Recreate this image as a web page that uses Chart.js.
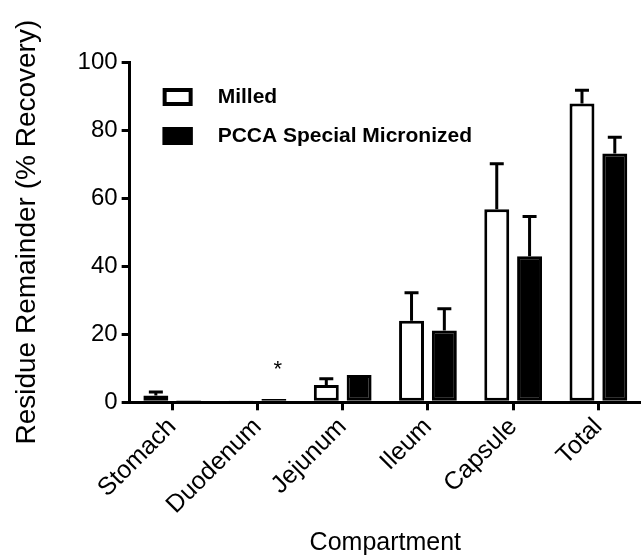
<!DOCTYPE html>
<html>
<head>
<meta charset="utf-8">
<script src="https://cdn.jsdelivr.net/npm/chart.js@4.4.0/dist/chart.umd.min.js"></script>
<style>
  html, body { margin: 0; padding: 0; background: #fff; }
  #wrap { width: 641px; height: 556px; }
</style>
</head>
<body>
<div id="wrap"><canvas id="residueChart"></canvas></div>
<script>
const compartments = ["Stomach", "Duodenum", "Jejunum", "Ileum", "Capsule", "Total"];
const milled = [2.0, 0.4, 5.1, 24.0, 56.7, 87.8];
const milledErr = [1.0, 0, 1.8, 8.2, 13.4, 3.9];
const micronized = [0.6, 1.0, 8.0, 21.1, 42.9, 73.1];
const micronizedErr = [0, 0, 0, 6.4, 11.7, 4.8];
const micronizedMarks = ["", "*", "", "", "", ""];
const yTicks = [0, 20, 40, 60, 80, 100];

const FONT = "'Liberation Sans', Arial, sans-serif";

// error bars (upper only) + significance marks
const errorBars = {
  id: "errorBars",
  afterDatasetsDraw(chart) {
    const ctx = chart.ctx;
    const y = chart.scales.y;
    ctx.save();
    ctx.strokeStyle = "#000";
    ctx.lineWidth = 3;
    chart.data.datasets.forEach((ds, i) => {
      const meta = chart.getDatasetMeta(i);
      meta.data.forEach((bar, j) => {
        const err = ds.errors[j];
        if (err > 0) {
          const top = y.getPixelForValue(ds.data[j] + err);
          ctx.beginPath();
          ctx.moveTo(bar.x, bar.y);
          ctx.lineTo(bar.x, top);
          ctx.moveTo(bar.x - 7, top);
          ctx.lineTo(bar.x + 7, top);
          ctx.stroke();
        }
        if (ds.marks && ds.marks[j]) {
          ctx.fillStyle = "#000";
          ctx.font = "22px " + FONT;
          ctx.textAlign = "center";
          ctx.textBaseline = "middle";
          ctx.fillText(ds.marks[j], bar.x + 4, y.getPixelForValue(9.5));
        }
      });
    });
    ctx.restore();
  }
};

// legend drawn inside the plot area, like the original
const insideLegend = {
  id: "insideLegend",
  afterDraw(chart) {
    const ctx = chart.ctx;
    const area = chart.chartArea;
    ctx.save();
    ctx.font = "bold 21px " + FONT;
    ctx.textBaseline = "middle";
    ctx.textAlign = "left";
    chart.data.datasets.forEach((ds, i) => {
      const bx = area.left + 33;
      const by = area.top + 26 + i * 39;
      ctx.fillStyle = ds.backgroundColor;
      ctx.fillRect(bx, by, 30, 18);
      ctx.lineWidth = 4;
      ctx.strokeStyle = "#000";
      ctx.strokeRect(bx + 2, by + 2, 26, 14);
      ctx.fillStyle = "#000";
      ctx.fillText(ds.label, bx + 55, by + 9);
    });
    ctx.restore();
  }
};

new Chart(document.getElementById("residueChart"), {
  type: "bar",
  data: {
    labels: compartments,
    datasets: [
      {
        label: "Milled",
        data: milled,
        errors: milledErr,
        backgroundColor: "#ffffff",
        borderColor: "#000000",
        borderWidth: 3,
        borderSkipped: false
      },
      {
        label: "PCCA Special Micronized",
        data: micronized,
        errors: micronizedErr,
        marks: micronizedMarks,
        backgroundColor: "#000000",
        borderColor: "#000000",
        borderWidth: 3,
        borderSkipped: false
      }
    ]
  },
  options: {
    responsive: true,
    maintainAspectRatio: false,
    animation: false,
    categoryPercentage: 0.77,
    barPercentage: 0.76,
    layout: { padding: { top: 62, right: 0, bottom: 0, left: 10 } },
    plugins: {
      legend: { display: false },
      tooltip: { enabled: false }
    },
    scales: {
      x: {
        offset: true,
        grid: { display: true, offset: false, drawOnChartArea: false, color: "#000", lineWidth: 3, tickLength: 8 },
        border: { display: true, color: "#000", width: 3 },
        ticks: {
          color: "#000",
          font: { family: FONT, size: 25 },
          minRotation: 45,
          maxRotation: 45,
          padding: 2
        },
        title: {
          display: true,
          text: "Compartment",
          color: "#000",
          font: { family: FONT, size: 25, lineHeight: 1 },
          padding: { top: 9, bottom: 0 }
        }
      },
      y: {
        min: 0,
        max: 100,
        afterBuildTicks(scale) {
          scale.ticks = yTicks.map(v => ({ value: v }));
        },
        grid: { display: true, drawOnChartArea: false, color: "#000", lineWidth: 3, tickLength: 8 },
        border: { display: true, color: "#000", width: 3 },
        ticks: {
          color: "#000",
          font: { family: FONT, size: 24 },
          padding: 4
        },
        title: {
          display: true,
          text: "Residue Remainder (% Recovery)",
          color: "#000",
          font: { family: FONT, size: 28 },
          padding: { top: 0, bottom: 30 }
        }
      }
    }
  },
  plugins: [errorBars, insideLegend]
});
</script>
</body>
</html>
